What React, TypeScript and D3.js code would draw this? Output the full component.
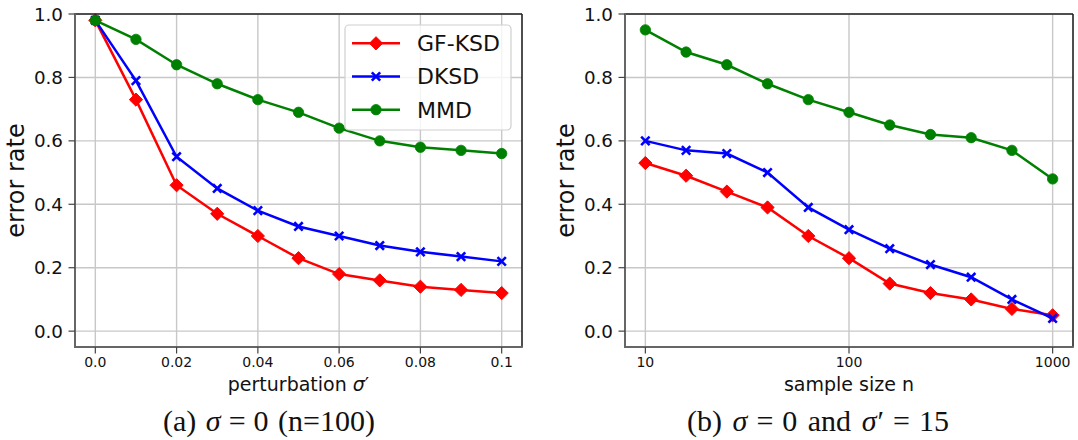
import React from 'react';
import * as d3 from 'd3';

// ---- data ----
const perturbation = [0, 0.01, 0.02, 0.03, 0.04, 0.05, 0.06, 0.07, 0.08, 0.09, 0.1];
const gfksdA = [0.98, 0.73, 0.46, 0.37, 0.30, 0.23, 0.18, 0.16, 0.14, 0.13, 0.12];
const dksdA = [0.98, 0.79, 0.55, 0.45, 0.38, 0.33, 0.30, 0.27, 0.25, 0.235, 0.22];
const mmdA = [0.98, 0.92, 0.84, 0.78, 0.73, 0.69, 0.64, 0.60, 0.58, 0.57, 0.56];

const sampleSizes = [10, 15.85, 25.12, 39.81, 63.1, 100, 158.5, 251.2, 398.1, 631, 1000];
const gfksdB = [0.53, 0.49, 0.44, 0.39, 0.30, 0.23, 0.15, 0.12, 0.10, 0.07, 0.05];
const dksdB = [0.60, 0.57, 0.56, 0.50, 0.39, 0.32, 0.26, 0.21, 0.17, 0.10, 0.04];
const mmdB = [0.95, 0.88, 0.84, 0.78, 0.73, 0.69, 0.65, 0.62, 0.61, 0.57, 0.48];

const seriesNames = ['GF-KSD', 'DKSD', 'MMD'];
const seriesColors = ['#ff0000', '#0000ff', '#008000'];
const seriesMarkers = ['diamond', 'x', 'circle'];

const yTicks = [0, 0.2, 0.4, 0.6, 0.8, 1.0];
const yTickLabels = ['0.0', '0.2', '0.4', '0.6', '0.8', '1.0'];
const xTicksA = [0, 0.02, 0.04, 0.06, 0.08, 0.1];
const xTickLabelsA = ['0.0', '0.02', '0.04', '0.06', '0.08', '0.1'];
const xTicksB = [10, 100, 1000];
const xTickLabelsB = ['10', '100', '1000'];

const FONT = 'DejaVu Sans';

function Marker({ kind, x, y, color }: { kind: string; x: number; y: number; color: string }) {
  if (kind === 'diamond') {
    const r = 6.6;
    return <path d={`M${x},${y - r}L${x + r},${y}L${x},${y + r}L${x - r},${y}Z`} fill={color} stroke={color} strokeWidth={1} />;
  }
  if (kind === 'x') {
    const r = 4.2;
    return (
      <path d={`M${x - r},${y - r}L${x + r},${y + r}M${x - r},${y + r}L${x + r},${y - r}`} stroke={color} strokeWidth={2.6} fill="none" />
    );
  }
  return <circle cx={x} cy={y} r={5.2} fill={color} stroke={color} strokeWidth={0.8} />;
}

type PanelProps = {
  left: number;
  right: number;
  top: number;
  bottom: number;
  xScale: any;
  xs: number[];
  series: number[][];
  xTicks: number[];
  xTickLabels: string[];
  xlabel: React.ReactNode;
  legend?: boolean;
};

function Panel({ left, right, top, bottom, xScale, xs, series, xTicks, xTickLabels, xlabel, legend }: PanelProps) {
  const y = d3.scaleLinear().domain([-0.05, 1.0]).range([bottom, top]);
  const cx = (left + right) / 2;
  return (
    <g>
      {xTicks.map((t, i) => (
        <line key={'gx' + i} x1={xScale(t)} x2={xScale(t)} y1={top} y2={bottom} stroke="#c8c8c8" strokeWidth={1.4} />
      ))}
      {yTicks.map((t, i) => (
        <line key={'gy' + i} x1={left} x2={right} y1={y(t)} y2={y(t)} stroke="#c8c8c8" strokeWidth={1.4} />
      ))}
      {series.map((vals, si) => {
        const line = d3
          .line<number>()
          .x((_, i) => xScale(xs[i]))
          .y((v) => y(v));
        return (
          <g key={'s' + si}>
            <path d={line(vals) || ''} fill="none" stroke={seriesColors[si]} strokeWidth={2.5} />
            {vals.map((v, i) => (
              <Marker key={i} kind={seriesMarkers[si]} x={xScale(xs[i])} y={y(v)} color={seriesColors[si]} />
            ))}
          </g>
        );
      })}
      <line x1={left} x2={right} y1={top} y2={top} stroke="#222" strokeWidth={1.6} />
      <line x1={right} x2={right} y1={top} y2={bottom} stroke="#222" strokeWidth={1.6} />
      <line x1={left} x2={left} y1={top - 0.8} y2={bottom + 1} stroke="#666" strokeWidth={2} />
      <line x1={left - 1} x2={right + 0.8} y1={bottom} y2={bottom} stroke="#666" strokeWidth={2} />
      {yTicks.map((t, i) => (
        <g key={'yt' + i}>
          <line x1={left - 6.5} x2={left} y1={y(t)} y2={y(t)} stroke="#444" strokeWidth={1.2} />
          <text x={left - 12} y={y(t)} dy="0.36em" textAnchor="end" fontFamily={FONT} fontSize={18.3} fill="#111">
            {yTickLabels[i]}
          </text>
        </g>
      ))}
      {xTicks.map((t, i) => (
        <g key={'xt' + i}>
          <line x1={xScale(t)} x2={xScale(t)} y1={bottom} y2={bottom + 6.5} stroke="#444" strokeWidth={1.2} />
          <text x={xScale(t)} y={bottom + 20} textAnchor="middle" fontFamily={FONT} fontSize={14} fill="#111">
            {xTickLabels[i]}
          </text>
        </g>
      ))}
      <text x={cx} y={bottom + 44} textAnchor="middle" fontFamily={FONT} fontSize={19} fill="#111">
        {xlabel}
      </text>
      <text
        transform={`translate(${left - 51},${(top + bottom) / 2}) rotate(-90)`}
        textAnchor="middle"
        fontFamily={FONT}
        fontSize={24}
        fill="#111"
      >
        error rate
      </text>
      {legend && (
        <g>
          <rect x={345} y={25} width={166} height={105} rx={4} fill="#ffffff" fillOpacity={0.8} stroke="#d0d0d0" strokeWidth={1.2} />
          {seriesNames.map((name, i) => {
            const ly = 43.3 + i * 33.2;
            return (
              <g key={'lg' + i}>
                <line x1={352} x2={400} y1={ly} y2={ly} stroke={seriesColors[i]} strokeWidth={2.5} />
                <Marker kind={seriesMarkers[i]} x={376} y={ly} color={seriesColors[i]} />
                <text x={417} y={ly} dy="0.36em" fontFamily={FONT} fontSize={22} fill="#111">
                  {name}
                </text>
              </g>
            );
          })}
        </g>
      )}
    </g>
  );
}

export default function App() {
  const top = 14;
  const bottom = 347;
  const xA = d3.scaleLinear().domain([-0.005, 0.105]).range([75, 522]);
  const xB = d3.scaleLog().domain([Math.pow(10, 0.9), Math.pow(10, 3.1)]).range([625, 1073]);
  const capFont = 'Liberation Serif';
  const capSize = 30;
  return (
    <svg width={1078} height={440} style={{ position: 'absolute', left: 0, top: 0, background: '#fff' }}>
      <rect x={0} y={0} width={1078} height={440} fill="#fff" />
      <Panel
        left={75}
        right={522}
        top={top}
        bottom={bottom}
        xScale={xA}
        xs={perturbation}
        series={[gfksdA, dksdA, mmdA]}
        xTicks={xTicksA}
        xTickLabels={xTickLabelsA}
        xlabel={
          <>
            perturbation <tspan fontStyle="oblique">σ</tspan>′
          </>
        }
        legend
      />
      <Panel
        left={625}
        right={1073}
        top={top}
        bottom={bottom}
        xScale={xB}
        xs={sampleSizes}
        series={[gfksdB, dksdB, mmdB]}
        xTicks={xTicksB}
        xTickLabels={xTickLabelsB}
        xlabel="sample size n"
      />
      <text x={269} y={431} textAnchor="middle" fontFamily={capFont} fontSize={capSize} fill="#111">
        <tspan>(a)</tspan>
        <tspan dx={9.5} fontStyle="italic">σ</tspan>
        <tspan dx={8}>=</tspan>
        <tspan dx={8}>0</tspan>
        <tspan dx={9.5}>(n=100)</tspan>
      </text>
      <text x={818} y={431} textAnchor="middle" fontFamily={capFont} fontSize={capSize} fill="#111">
        <tspan>(b)</tspan>
        <tspan dx={10.5} fontStyle="italic">σ</tspan>
        <tspan dx={9}>=</tspan>
        <tspan dx={9}>0</tspan>
        <tspan dx={10.5}>and</tspan>
        <tspan dx={10.5} fontStyle="italic">σ</tspan>
        <tspan dx={1}>′</tspan>
        <tspan dx={9}>=</tspan>
        <tspan dx={9}>15</tspan>
      </text>
    </svg>
  );
}
